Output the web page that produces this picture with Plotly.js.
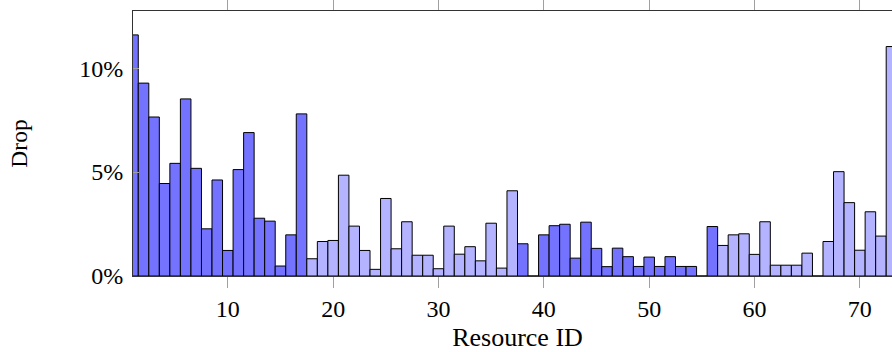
<!DOCTYPE html>
<html>
<head>
<meta charset="utf-8">
<script src="https://cdn.plot.ly/plotly-3.0.1.min.js"></script>
<style>
  html, body { margin: 0; padding: 0; overflow: hidden; background: #fff; }
  #chart { width: 902px; height: 352px; }
</style>
</head>
<body>
<div id="chart"></div>
<script>
// Resource IDs and drop (%) for the dark-blue group
const darkIds = [1,2,3,4,5,6,7,8,9,10,11,12,13,14,15,16,17,38,39,40,41,42,43,44,45,46,47,48,49,50,51,52,53,54,55,56];
const darkDrop = [11.6,9.28,7.65,4.45,5.42,8.52,5.18,2.27,4.62,1.23,5.12,6.90,2.78,2.64,0.48,1.98,7.80,1.55,0,1.98,2.42,2.49,0.86,2.59,1.33,0.45,1.34,0.93,0.46,0.91,0.46,0.93,0.46,0.46,0,2.38];
// Resource IDs and drop (%) for the light-blue group
const lightIds = [18,19,20,21,22,23,24,25,26,27,28,29,30,31,32,33,34,35,36,37,57,58,59,60,61,62,63,64,65,66,67,68,69,70,71,72,73];
const lightDrop = [0.83,1.66,1.71,4.85,2.40,1.23,0.32,3.73,1.31,2.61,1.00,1.00,0.35,2.40,1.05,1.41,0.73,2.54,0.38,4.10,1.47,1.98,2.03,1.04,2.61,0.52,0.52,0.52,1.10,0,1.66,5.02,3.53,1.24,3.09,1.92,11.04];
const xTicks = [10,20,30,40,50,60,70];
const yTicks = [0,0.05,0.10];
const yTickText = ['0%','5%','10%'];

const toFrac = a => a.map(v => v / 100);

const traces = [
  {type:'bar', x: darkIds, y: toFrac(darkDrop), width: 1,
   marker:{color:'#7373ff', line:{color:'#000', width:1}}, hoverinfo:'x+y'},
  {type:'bar', x: lightIds, y: toFrac(lightDrop), width: 1,
   marker:{color:'#b3b3ff', line:{color:'#000', width:1}}, hoverinfo:'x+y'}
];

const font = "'Liberation Serif', 'DejaVu Serif', serif";

const layout = {
  width: 902, height: 352,
  margin: {l: 133, r: 0, t: 11, b: 75.5},
  paper_bgcolor: '#fff', plot_bgcolor: '#fff',
  showlegend: false,
  barmode: 'overlay',
  font: {family: font, color: '#000'},
  xaxis: {
    range: [1, 74], autorange: false,
    tickmode: 'array', tickvals: xTicks, ticktext: xTicks.map(String),
    ticks: 'outside', ticklen: 11, tickwidth: 1, tickcolor: '#a0a0a0',
    showline: true, linecolor: '#333', linewidth: 1, mirror: 'ticks',
    showgrid: false, zeroline: false,
    tickfont: {family: font, size: 24, color: '#000'},
    title: {text: 'Resource ID', font: {family: font, size: 26, color: '#000'}, standoff: 10},
    automargin: false
  },
  yaxis: {
    range: [0, 0.1275], autorange: false,
    tickmode: 'array', tickvals: yTicks, ticktext: yTickText,
    ticks: 'inside', ticklen: 6, tickwidth: 1, tickcolor: '#a0a0a0',
    showline: true, linecolor: '#333', linewidth: 1, mirror: 'ticks',
    showgrid: false, zeroline: false,
    ticklabelstandoff: 4,
    tickfont: {family: font, size: 24, color: '#000'},
    title: {text: 'Drop', font: {family: font, size: 23.5, color: '#000'}, standoff: 44},
    automargin: false
  }
};

Plotly.newPlot('chart', traces, layout, {displayModeBar: false, staticPlot: true});
</script>
</body>
</html>
